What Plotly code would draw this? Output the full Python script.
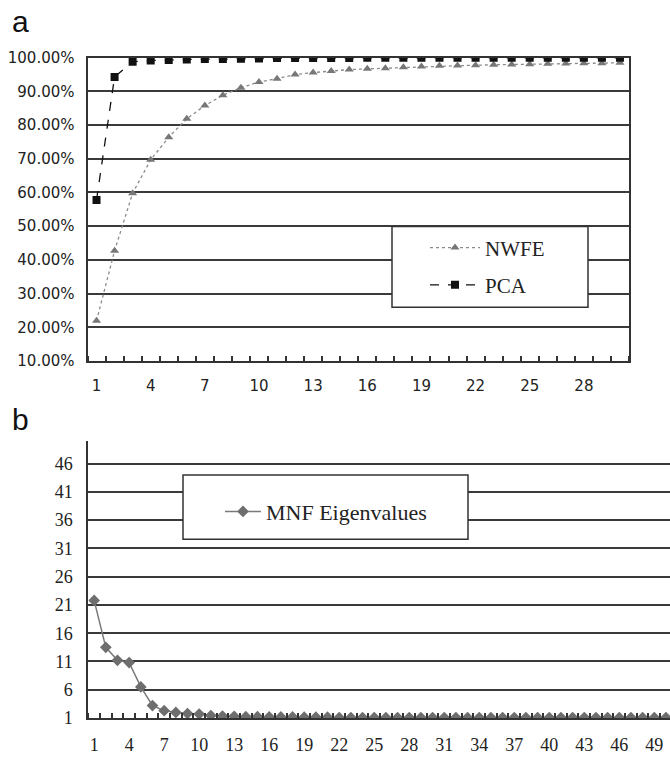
import plotly.graph_objects as go

W, H = 670, 757

# ---------------- data ----------------
components_a = list(range(1, 31))
nwfe_cum = [0.219, 0.427, 0.598, 0.697, 0.764, 0.819, 0.858, 0.889, 0.911, 0.928,
            0.938, 0.950, 0.956, 0.961, 0.965, 0.967, 0.969, 0.972, 0.974, 0.976,
            0.977, 0.978, 0.979, 0.980, 0.981, 0.982, 0.983, 0.984, 0.984, 0.985]
pca_cum = [0.578, 0.943, 0.988, 0.992, 0.993, 0.995, 0.996, 0.996, 0.997, 0.998,
           0.999, 0.999, 0.999, 0.999, 0.999, 1.000, 1.000, 1.000, 1.000, 1.000,
           1.000, 1.000, 1.000, 1.000, 1.000, 1.000, 1.000, 1.000, 1.000, 1.000]
xticks_a = [1, 4, 7, 10, 13, 16, 19, 22, 25, 28]
yticks_a = [0.1, 0.2, 0.3, 0.4, 0.5, 0.6, 0.7, 0.8, 0.9, 1.0]

components_b = list(range(1, 51))
mnf_eig = [21.8, 13.5, 11.2, 10.8, 6.5, 3.2, 2.3, 2.0, 1.8, 1.7,
           1.45, 1.35, 1.3, 1.25, 1.25, 1.2, 1.2, 1.2, 1.15, 1.15,
           1.15, 1.1, 1.1, 1.1, 1.1, 1.1, 1.1, 1.1, 1.1, 1.1,
           1.1, 1.1, 1.1, 1.1, 1.1, 1.1, 1.1, 1.1, 1.1, 1.1,
           1.1, 1.1, 1.1, 1.1, 1.1, 1.1, 1.1, 1.1, 1.1, 1.1]
xticks_b = [1, 4, 7, 10, 13, 16, 19, 22, 25, 28, 31, 34, 37, 40, 43, 46, 49]
yticks_b = [1, 6, 11, 16, 21, 26, 31, 36, 41, 46]


def px_x(p):
    return p / W


def px_y(p):
    return 1 - p / H


SANS = "DejaVu Sans"
SERIF = "Liberation Serif"
AX = "#333333"
GRID = "#3a3a3a"

fig = go.Figure()

fig.add_trace(go.Scatter(
    x=components_a, y=nwfe_cum, name="NWFE", mode="lines+markers",
    line=dict(color="#8a8a8a", width=1.3, dash="dot"),
    marker=dict(symbol="triangle-up", size=8, color="#777777"),
    xaxis="x", yaxis="y", legend="legend", legendgroup="a1"))
fig.add_trace(go.Scatter(
    x=components_a, y=pca_cum, name="PCA", mode="lines+markers",
    line=dict(color="#111111", width=1.3, dash="dash"),
    marker=dict(symbol="square", size=8, color="#111111"),
    xaxis="x", yaxis="y", legend="legend", legendgroup="a2"))
fig.add_trace(go.Scatter(
    x=components_b, y=mnf_eig, name="MNF Eigenvalues", mode="lines+markers",
    line=dict(color="#7a7a7a", width=1.5),
    marker=dict(symbol="diamond", size=9, color="#6e6e6e"),
    xaxis="x2", yaxis="y2", legend="legend2"))

# plot area geometry (pixels)
a_left, a_right, a_top, a_bot = 87.5, 629, 50, 361
b_left, b_top, b_bot = 88.3, 443, 727.3
b_spacing = 11.67

fig.update_layout(
    width=W, height=H, autosize=False,
    margin=dict(l=0, r=0, t=0, b=0),
    paper_bgcolor="white", plot_bgcolor="white",
    showlegend=True,
    xaxis=dict(
        domain=[px_x(a_left), px_x(a_right)], anchor="y",
        range=[0.5, 30.5], tickmode="array", tickvals=xticks_a,
        ticktext=[str(v) for v in xticks_a], ticks="",
        showgrid=False, zeroline=False,
        showline=True, linecolor=AX, linewidth=2, mirror=True,
        tickfont=dict(family=SANS, size=15, color="#222"),
        ticklabelstandoff=10,
        minor=dict(ticks="inside", tick0=0.5, dtick=1, ticklen=5,
                   tickcolor=AX, tickwidth=1.5, showgrid=False),
    ),
    yaxis=dict(
        domain=[px_y(a_bot), px_y(a_top)], anchor="x",
        range=[0.1, 1.0], tickmode="array", tickvals=yticks_a,
        tickformat=".2%", ticks="",
        showgrid=True, gridcolor=GRID, gridwidth=1.5, zeroline=False,
        showline=True, linecolor=AX, linewidth=2, mirror=True,
        tickfont=dict(family=SANS, size=15, color="#222"),
        ticklabelstandoff=8,
    ),
    xaxis2=dict(
        domain=[px_x(b_left), 1.0], anchor="y2",
        range=[0.5, 0.5 + (W - b_left) / b_spacing], tickmode="array",
        tickvals=xticks_b, ticktext=[str(v) for v in xticks_b], ticks="",
        showgrid=False, zeroline=False,
        showline=True, linecolor=AX, linewidth=2,
        tickfont=dict(family=SERIF, size=18, color="#222"),
        ticklabelstandoff=9,
        minor=dict(ticks="inside", tick0=0.5, dtick=1, ticklen=5,
                   tickcolor=AX, tickwidth=1.5, showgrid=False),
    ),
    yaxis2=dict(
        domain=[px_y(b_bot), px_y(b_top)], anchor="x2",
        range=[1, 50], tickmode="array", tickvals=yticks_b, ticks="",
        showgrid=True, gridcolor=GRID, gridwidth=1.5, zeroline=False,
        showline=True, linecolor=AX, linewidth=2,
        tickfont=dict(family=SERIF, size=18, color="#222"),
        ticklabelstandoff=10,
    ),
    legend=dict(
        x=px_x(425), y=px_y(224), xanchor="left", yanchor="top",
        bgcolor="rgba(0,0,0,0)", borderwidth=0,
        font=dict(family=SERIF, size=21, color="#222"),
        traceorder="grouped", tracegroupgap=7, itemwidth=50,
    ),
    legend2=dict(
        x=px_x(220), y=px_y(494), xanchor="left", yanchor="top",
        bgcolor="rgba(0,0,0,0)", borderwidth=0,
        font=dict(family=SERIF, size=22, color="#222"),
        itemwidth=36,
    ),
    shapes=[
        dict(type="rect", xref="paper", yref="paper",
             x0=px_x(392), x1=px_x(588), y0=px_y(306), y1=px_y(223),
             line=dict(color="#333", width=1.5), fillcolor="white", layer="above"),
        dict(type="rect", xref="paper", yref="paper",
             x0=px_x(183), x1=px_x(468), y0=px_y(544), y1=px_y(478),
             line=dict(color="#333", width=1.5), fillcolor="white", layer="above"),
    ],
    annotations=[
        dict(text="a", xref="paper", yref="paper", x=px_x(10), y=px_y(-6),
             xanchor="left", yanchor="top", showarrow=False,
             font=dict(family="Liberation Sans", size=30, color="#111")),
        dict(text="b", xref="paper", yref="paper", x=px_x(10), y=px_y(402),
             xanchor="left", yanchor="top", showarrow=False,
             font=dict(family="Liberation Sans", size=30, color="#111")),
    ],
)

fig.write_html(
    "out.html",
    config={"displayModeBar": False},
    post_script="document.body.style.margin='0';document.body.style.padding='0';"
                "document.documentElement.style.overflow='hidden';",
)
